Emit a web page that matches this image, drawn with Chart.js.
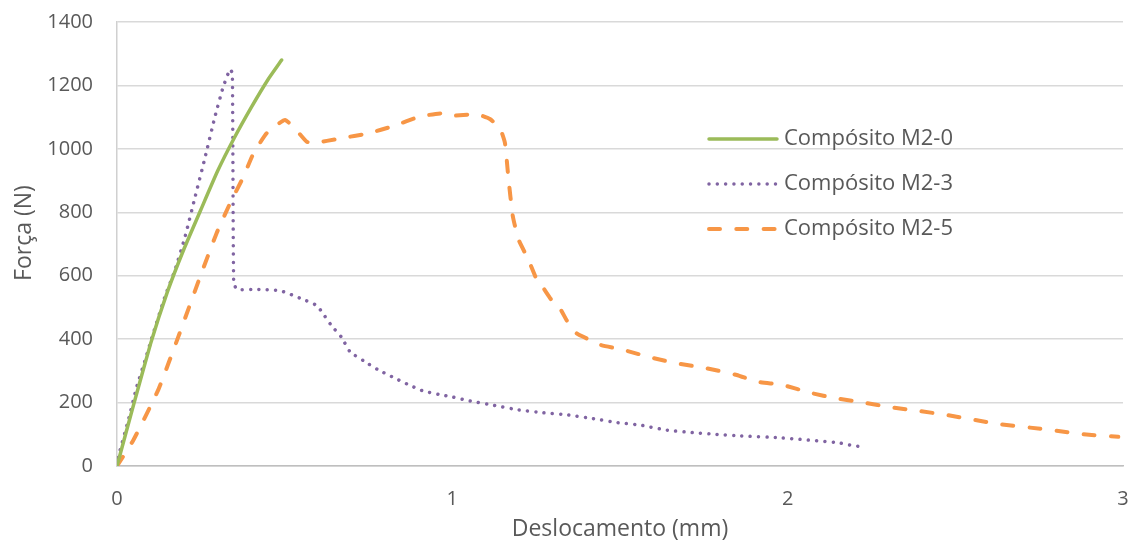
<!DOCTYPE html>
<html>
<head>
<meta charset="utf-8">
<script src="https://cdn.jsdelivr.net/npm/chart.js@4.4.1/dist/chart.umd.min.js"></script>
<style>
  html, body { margin: 0; padding: 0; background: #fff; }
</style>
</head>
<body>
<canvas id="myChart" width="1134" height="540"></canvas>
<script>
// Ensaio de flexão: força x deslocamento
const nomes = ['Compósito M2-0', 'Compósito M2-3', 'Compósito M2-5'];

const m20X = [0, 0.05, 0.1, 0.15, 0.2, 0.25, 0.3, 0.35, 0.4, 0.45, 0.491];
const m20Y = [0, 195, 385, 548, 685, 808, 930, 1035, 1130, 1218, 1280];

const m23X = [0, 0.004, 0.034, 0.059, 0.084, 0.108, 0.143, 0.173, 0.203, 0.233, 0.262, 0.292, 0.317, 0.337,
  0.344, 0.348, 0.358, 0.416, 0.486, 0.551, 0.596, 0.61, 0.638, 0.67, 0.695, 0.735, 0.776, 0.819, 0.864,
  0.909, 0.958, 1.003, 1.053, 1.125, 1.197, 1.272, 1.346, 1.416, 1.49, 1.56, 1.634, 1.709, 1.784, 1.858,
  1.977, 2.146, 2.196, 2.221];
const m23Y = [0, 29, 145, 250, 334, 418, 534, 618, 723, 849, 970, 1101, 1196, 1251,
  1238, 578, 557, 557, 553, 527, 506, 487, 445, 405, 360, 332, 305, 282, 259,
  238, 226, 217, 205, 191, 177, 168, 161, 150, 137, 129, 114, 106, 100, 95,
  89, 74, 64, 61];

const m25X = [0, 0.049, 0.123, 0.183, 0.248, 0.297, 0.337, 0.377, 0.407, 0.446, 0.48, 0.501, 0.526, 0.565,
  0.586, 0.665, 0.75, 0.824, 0.904, 0.968, 0.993, 1.073, 1.112, 1.142, 1.157, 1.167, 1.18, 1.197, 1.227,
  1.252, 1.272, 1.296, 1.321, 1.346, 1.371, 1.411, 1.441, 1.51, 1.6, 1.679, 1.759, 1.848, 1.908, 1.987,
  2.067, 2.146, 2.226, 2.31, 2.395, 2.474, 2.559, 2.638, 2.723, 2.802, 2.882, 2.986];
const m25Y = [0, 82, 240, 408, 597, 734, 828, 912, 986, 1049, 1078, 1091, 1070, 1023,
  1018, 1033, 1049, 1072, 1102, 1112, 1104, 1109, 1094, 1065, 1018, 910, 790, 715, 650,
  587, 560, 523, 497, 450, 418, 397, 382, 366, 340, 322, 308, 287, 266, 255,
  231, 213, 200, 185, 173, 161, 145, 131, 121, 111, 100, 92];

const ticksX = [0, 1, 2, 3];
const ticksY = [0, 200, 400, 600, 800, 1000, 1200, 1400];

const pares = (xs, ys) => xs.map((x, i) => ({ x: x, y: ys[i] }));

const fonte = '"Open Sans", "DejaVu Sans", sans-serif';
const cinza = '#595959';
const tamTick = 20;
const tamLeg = 22;
const tamTit = 23;

// legenda dentro da área do gráfico + título do eixo Y
const leyenda = {
  id: 'leyenda',
  afterDraw(chart) {
    const c = chart.ctx;
    c.save();
    chart.data.datasets.forEach((ds, i) => {
      const y = 139 + i * 45;
      c.beginPath();
      c.strokeStyle = ds.borderColor;
      c.lineWidth = ds.borderWidth;
      c.lineCap = 'round';
      c.setLineDash(ds.borderDash || []);
      c.moveTo(709, y);
      c.lineTo(777, y);
      c.stroke();
      c.setLineDash([]);
      c.fillStyle = cinza;
      c.font = tamLeg + 'px ' + fonte;
      c.textBaseline = 'middle';
      c.textAlign = 'left';
      c.fillText(ds.label, 784, y);
    });
    c.translate(24, 233);
    c.rotate(-Math.PI / 2);
    c.textAlign = 'center';
    c.textBaseline = 'middle';
    c.font = tamTit + 'px ' + fonte;
    c.fillStyle = cinza;
    c.fillText('Força (N)', 0, 0);
    c.restore();
  }
};

const ctx = document.getElementById('myChart');

const myChart = new Chart(ctx, {
  type: 'scatter',
  data: {
    datasets: [{
      label: nomes[0],
      data: pares(m20X, m20Y),
      borderColor: '#9BBB59',
      borderWidth: 3.5,
      borderCapStyle: 'round'
    }, {
      label: nomes[1],
      data: pares(m23X, m23Y),
      borderColor: '#8064A2',
      borderWidth: 3.5,
      borderDash: [0.01, 8.3],
      borderCapStyle: 'round'
    }, {
      label: nomes[2],
      data: pares(m25X, m25Y),
      borderColor: '#F79646',
      borderWidth: 4,
      borderDash: [11, 16.3],
      borderCapStyle: 'round'
    }]
  },
  options: {
    responsive: false,
    animation: false,
    showLine: true,
    elements: {
      point: { radius: 0, hoverRadius: 0 },
      line: { tension: 0.15, borderJoinStyle: 'round' }
    },
    layout: { padding: { top: 22, right: 11, left: 0, bottom: 0 } },
    plugins: {
      legend: { display: false },
      tooltip: { enabled: false }
    },
    scales: {
      x: {
        type: 'linear',
        min: 0,
        max: 3,
        afterBuildTicks: (s) => { s.ticks = ticksX.map(v => ({ value: v })); },
        afterFit: (s) => { s.height = 74; s.paddingLeft = 0; s.paddingRight = 0; },
        grid: { display: false, drawTicks: false },
        border: { display: true, color: '#bfbfbf', width: 1.5 },
        ticks: { color: cinza, font: { family: fonte, size: tamTick }, padding: 21, maxRotation: 0 },
        title: {
          display: true,
          text: 'Deslocamento (mm)',
          color: cinza,
          font: { family: fonte, size: tamTit, lineHeight: 0.8 },
          padding: { top: 0, bottom: 1 }
        }
      },
      y: {
        min: 0,
        max: 1400,
        afterBuildTicks: (s) => { s.ticks = ticksY.map(v => ({ value: v })); },
        afterFit: (s) => { s.width = 117; s.paddingTop = 0; s.paddingBottom = 0; },
        grid: { color: '#d9d9d9', lineWidth: 1.5, drawTicks: false },
        border: { display: true, color: '#d0d0d0', width: 1.5 },
        ticks: {
          color: cinza,
          font: { family: fonte, size: tamTick },
          padding: 24,
          callback: (v) => String(v)
        }
      }
    }
  },
  plugins: [leyenda]
});
</script>
</body>
</html>
